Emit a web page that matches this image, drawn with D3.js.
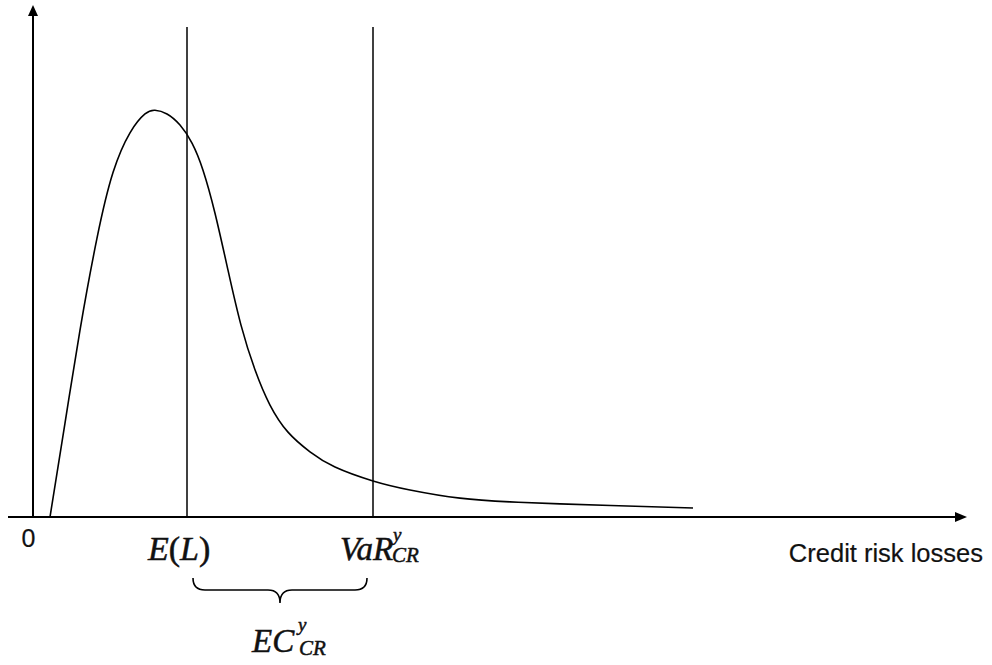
<!DOCTYPE html>
<html>
<head>
<meta charset="utf-8">
<script src="https://cdn.jsdelivr.net/npm/d3@7"></script>
<style>
  body { margin: 0; background: #fff; }
  .axis { stroke: #000; stroke-width: 2; fill: none; }
  .marker { stroke: #000; stroke-width: 1.5; }
  .curve { stroke: #000; stroke-width: 1.6; fill: none; }
  .math { font-family: "Liberation Serif", "Times New Roman", serif; font-style: italic;
          fill: #111; stroke: #111; stroke-width: 0.5; }
  .plain { font-family: "Liberation Sans", Arial, sans-serif; fill: #111; stroke: #111; stroke-width: 0.2; }
</style>
</head>
<body>
<svg id="chart" width="992" height="665"></svg>
<script>
// loss distribution
var losses  = [0.17, 0.32, 0.47, 0.64, 0.80, 0.97, 1.12, 1.22, 1.34, 1.47, 1.59, 1.70, 1.82,
               1.95, 2.08, 2.22, 2.37, 2.55, 2.77, 3.02, 3.40, 3.77, 4.27, 4.77, 5.27, 5.94, 6.60];
var density = [0.000, 0.229, 0.456, 0.680, 0.840, 0.937, 0.983, 0.992, 0.983, 0.956, 0.912, 0.846, 0.741,
               0.602, 0.468, 0.359, 0.273, 0.207, 0.159, 0.122, 0.088, 0.066, 0.046, 0.037, 0.032, 0.027, 0.022];
var expectedLoss = 1.54;
var valueAtRisk = 3.40;
var xLabel = "Credit risk losses";

var svg = d3.select("#chart");

var x = d3.scaleLinear().domain([0, 9.35]).range([33, 968]);
var y = d3.scaleLinear().domain([0, 1]).range([517, 107]);

// axes with arrow heads
var x0 = x(0), y0 = y(0);
svg.append("line").attr("class", "axis")
   .attr("x1", 8).attr("y1", y0).attr("x2", x.range()[1] - 13).attr("y2", y0);
svg.append("path")
   .attr("d", "M " + (x.range()[1] - 1) + " " + y0 + " l -12 -5 l 0 10 z")
   .attr("fill", "#000");
svg.append("line").attr("class", "axis")
   .attr("x1", x0).attr("y1", y0).attr("x2", x0).attr("y2", 16);
svg.append("path")
   .attr("d", "M " + x0 + " 5 l -5 11 l 10 0 z")
   .attr("fill", "#000");

// E(L) and VaR lines
[expectedLoss, valueAtRisk].forEach(function (v) {
  svg.append("line").attr("class", "marker")
     .attr("x1", x(v)).attr("y1", y0).attr("x2", x(v)).attr("y2", y(1.195));
});

// the density curve
var line = d3.line()
   .x(function (d, i) { return x(losses[i]); })
   .y(function (d) { return y(d); })
   .curve(d3.curveNatural);
svg.append("path").attr("class", "curve").attr("d", line(density));

// labels
svg.append("text").attr("class", "plain")
   .attr("x", x0 - 4.5).attr("y", 547).attr("text-anchor", "middle")
   .attr("font-size", 25).text("0");
svg.append("text").attr("class", "plain")
   .attr("x", 983).attr("y", 562).attr("text-anchor", "end")
   .attr("font-size", 25.5).text(xLabel);

var el = svg.append("text").attr("class", "math").attr("font-size", 34)
   .attr("x", x(expectedLoss) - 39).attr("y", 560);
el.append("tspan").text("E");
el.append("tspan").attr("font-style", "normal").text("(");
el.append("tspan").text("L");
el.append("tspan").attr("font-style", "normal").text(")");

var vx = x(valueAtRisk);
svg.append("text").attr("class", "math").attr("font-size", 33)
   .attr("x", vx - 33).attr("y", 560).text("VaR");
svg.append("text").attr("class", "math").attr("font-size", 19)
   .attr("x", vx + 20).attr("y", 541).text("y");
svg.append("text").attr("class", "math").attr("font-size", 21)
   .attr("x", vx + 19).attr("y", 562).text("CR");

// brace under the economic capital span
var bl = x(expectedLoss) + 6, br = x(valueAtRisk) - 6, bm = (bl + br) / 2;
svg.append("path").attr("class", "curve").attr("stroke-width", 1.4)
   .attr("d", "M" + bl + ",578 Q" + bl + ",590 " + (bl + 12) + ",590 L" + (bm - 12) + ",590 Q" +
              bm + ",590 " + bm + ",603 Q" + bm + ",590 " + (bm + 12) + ",590 L" + (br - 12) +
              ",590 Q" + br + ",590 " + br + ",578");

svg.append("text").attr("class", "math").attr("font-size", 33)
   .attr("x", bm - 28).attr("y", 652).text("EC");
svg.append("text").attr("class", "math").attr("font-size", 19)
   .attr("x", bm + 18).attr("y", 631).text("y");
svg.append("text").attr("class", "math").attr("font-size", 21)
   .attr("x", bm + 19).attr("y", 655).text("CR");
</script>
</body>
</html>
